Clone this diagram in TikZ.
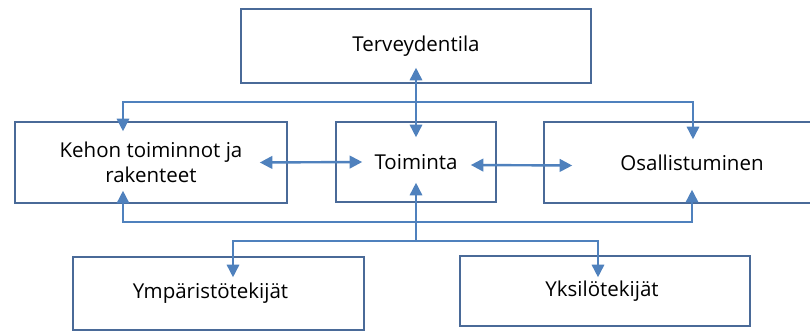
\documentclass[tikz,border=0pt]{standalone}
\usepackage{fontspec}
\setmainfont{Open Sans}
\usepackage{xcolor}
\usetikzlibrary{arrows.meta,positioning,calc}

\definecolor{boxline}{HTML}{4A6A98}
\definecolor{linkblue}{HTML}{4F81BD}

\tikzset{
  osa/.style={draw=boxline, line width=1.6pt, fill=white, rectangle,
    inner sep=0pt, align=center, font=\fontsize{20.5}{25}\selectfont},
  yhteys/.style={draw=linkblue, line width=1.6pt,
    -{Triangle[length=12.5pt,width=12.5pt]}},
  kaksi/.style={yhteys, {Triangle[length=12.5pt,width=12.5pt]}-{Triangle[length=12.5pt,width=12.5pt]}}
}

\begin{document}
\begin{tikzpicture}[x=1pt, y=-1pt]
  \useasboundingbox (0,0) rectangle (810,331);

  % Boxes
  \node[osa, minimum width=350pt, minimum height=74pt] (terv) at (416,46) {Terveydentila};
  \node[osa, minimum width=272pt, minimum height=81pt] (kehon) at (151,162.5)
    {Kehon toiminnot ja\\rakenteet};
  \node[osa, minimum width=160pt, minimum height=80pt] (toim) at (416,162) {Toiminta};
  \node[osa, minimum width=290pt, minimum height=81pt] (osal) at (689,162.5)
    {\hspace*{6pt}Osallistuminen};
  \node[osa, minimum width=291pt, minimum height=73pt] (ymp) at (218.5,293.5)
    {\hspace*{-16pt}Ympäristötekijät};
  \node[osa, minimum width=290pt, minimum height=70pt] (yks) at (605,291)
    {\hspace*{-6pt}Yksilötekijät};

  % Junctions on the lines
  \coordinate (ylaviiva) at (416,102);
  \coordinate (alaviiva) at (416,222);
  \coordinate (haara) at (416,241);

  % Health condition <-> activity
  \draw[kaksi] ([yshift=16pt]terv.south) -- ([yshift=-16pt]toim.north);

  % Upper bar
  \draw[yhteys] (ylaviiva) -| ([xshift=-28pt,yshift=-10pt]kehon.north);
  \draw[yhteys] (ylaviiva) -| ([xshift=4pt,yshift=-18pt]osal.north);

  % Lower bar
  \draw[yhteys] (alaviiva) -| ([xshift=-28pt,yshift=13pt]kehon.south);
  \draw[yhteys] (alaviiva) -| ([xshift=3pt,yshift=14pt]osal.south);
  \draw[yhteys] (haara) -- ([yshift=20pt]toim.south);

  % Contextual factors
  \draw[yhteys] (haara) -| ([xshift=14.5pt,yshift=-21pt]ymp.north);
  \draw[yhteys] (haara) -| ([xshift=-7pt,yshift=-22pt]yks.north);

  % Side arrows
  \draw[kaksi, line width=2.4pt] ([xshift=-28pt]kehon.east) -- ([xshift=27pt]toim.west);
  \draw[kaksi, line width=2.4pt] ([xshift=-26pt,yshift=-3pt]toim.east) -- ([xshift=29pt,yshift=-3pt]osal.west);
\end{tikzpicture}
\end{document}
